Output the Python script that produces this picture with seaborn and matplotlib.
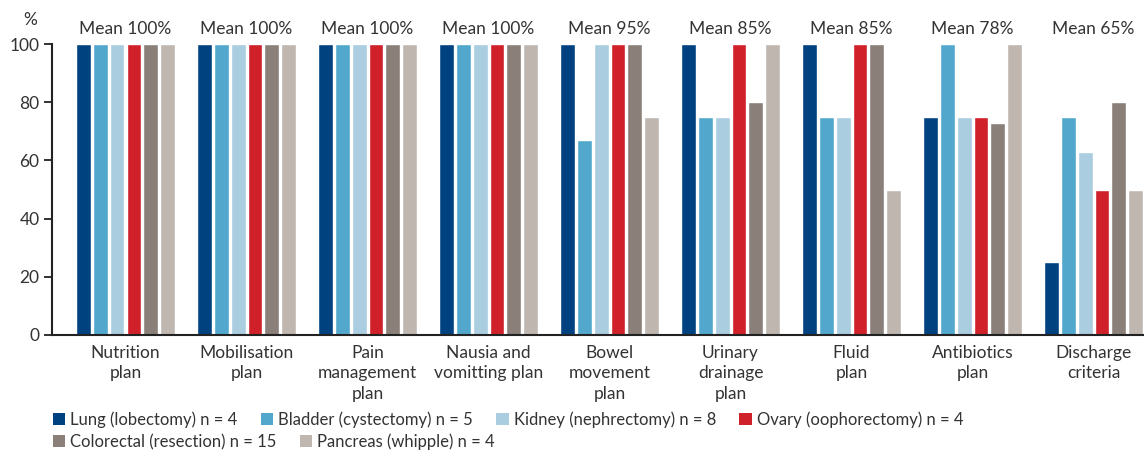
import numpy as np
import pandas as pd
import matplotlib
matplotlib.use("Agg")
import matplotlib.pyplot as plt
import seaborn as sns
from matplotlib.patches import Patch

categories = ["Nutrition\nplan", "Mobilisation\nplan", "Pain\nmanagement\nplan",
              "Nausia and\nvomitting plan", "Bowel\nmovement\nplan", "Urinary\ndrainage\nplan",
              "Fluid\nplan", "Antibiotics\nplan", "Discharge\ncriteria"]
means = ["Mean 100%", "Mean 100%", "Mean 100%", "Mean 100%", "Mean 95%",
         "Mean 85%", "Mean 85%", "Mean 78%", "Mean 65%"]
series = ["Lung (lobectomy) n = 4", "Bladder (cystectomy) n = 5",
          "Kidney (nephrectomy) n = 8", "Ovary (oophorectomy) n = 4",
          "Colorectal (resection) n = 15", "Pancreas (whipple) n = 4"]
lung = [100, 100, 100, 100, 100, 100, 100, 75, 25]
bladder = [100, 100, 100, 100, 67, 75, 75, 100, 75]
kidney = [100, 100, 100, 100, 100, 75, 75, 75, 63]
ovary = [100, 100, 100, 100, 100, 100, 100, 75, 50]
colorectal = [100, 100, 100, 100, 100, 80, 100, 73, 80]
pancreas = [100, 100, 100, 100, 75, 100, 50, 100, 50]
colors = ["#00427f", "#52a8cc", "#aacde0", "#d0202a", "#8a8079", "#bfb6b0"]

values = [lung, bladder, kidney, ovary, colorectal, pancreas]
df = pd.DataFrame([
    {"category": c, "series": s, "value": v}
    for s, vals in zip(series, values) for c, v in zip(categories, vals)
])

sns.set_style("white")
plt.rcParams["font.family"] = ["Lato", "DejaVu Sans"]
text_color = "#333333"
fs = 12.5

fig = plt.figure(figsize=(11.44, 4.5), dpi=100)
ax = fig.add_axes([0.0455, 0.2556, 0.9545, 0.6464])

sns.barplot(data=df, x="category", y="value", hue="series", order=categories,
            hue_order=series, palette=colors, width=0.83, gap=0.12,
            saturation=1, ax=ax, legend=False)

ax.set_ylim(0, 100)
ax.set_xlim(-0.607, len(categories) - 1 + 0.417)
ax.set_yticks([0, 20, 40, 60, 80, 100])
ax.set_xticks(range(len(categories)))
ax.set_xticklabels(categories, linespacing=1.35)
ax.tick_params(axis="y", direction="out", length=6, width=1.3, colors="#222222",
               labelsize=fs, labelcolor=text_color, left=True, pad=3)
ax.tick_params(axis="x", length=0, labelsize=fs, labelcolor=text_color, pad=7)
for sp in ["top", "right"]:
    ax.spines[sp].set_visible(False)
for sp in ["left", "bottom"]:
    ax.spines[sp].set_linewidth(1.5)
    ax.spines[sp].set_color("#222222")
ax.set_xlabel("")
ax.set_ylabel("")

for i, m in enumerate(means):
    ax.annotate(m, (i, 100), xytext=(0, 5), textcoords="offset points",
                ha="center", va="bottom", fontsize=fs, color=text_color,
                annotation_clip=False)

fig.text(0.026, 0.955, "%", ha="center", va="center", fontsize=fs, color=text_color)

handles = [Patch(facecolor=c, edgecolor="none") for c in colors]
common = dict(frameon=False, fontsize=12, handlelength=0.75, handleheight=0.75,
              handletextpad=0.3, columnspacing=1.4, borderpad=0, borderaxespad=0,
              labelcolor=text_color)
leg1 = fig.legend(handles[:4], series[:4], loc="lower left", ncol=4,
                  bbox_to_anchor=(0.046, 0.05), **common)
leg2 = fig.legend(handles[4:], series[4:], loc="lower left", ncol=2,
                  bbox_to_anchor=(0.046, 0.0), **common)

fig.savefig("out.png", dpi=100)
